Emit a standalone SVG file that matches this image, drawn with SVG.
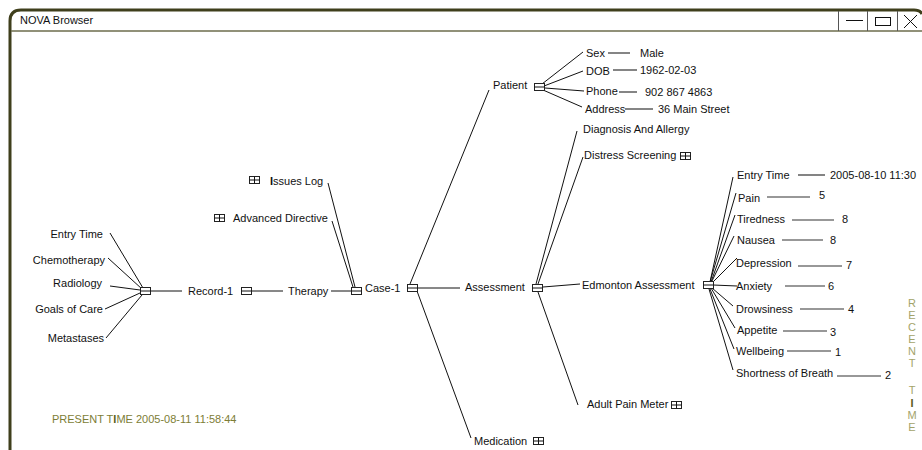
<svg xmlns="http://www.w3.org/2000/svg" xmlns:xlink="http://www.w3.org/1999/xlink" width="922" height="450" viewBox="0 0 922 450">
  <style>
    .t { font-family: "Liberation Sans", Arial, sans-serif; font-size: 11px; fill: #111; }
    .ln { stroke: #111; stroke-width: 1; fill: none; }
    .vl { stroke: #333; stroke-width: 1.2; fill: none; }
    .ic { stroke: #222; stroke-width: 1; fill: #fff; }
    .ol { font-family: "Liberation Sans", Arial, sans-serif; font-size: 11px; fill: #7d7d35; }
    .rc { font-family: "Liberation Sans", Arial, sans-serif; font-size: 11px; fill: #a3a36a; text-anchor: middle; }
    .bi { font-weight: bold; fill: #5d5d1c; }
  </style>
  <defs>
    <!-- collapse toggle: box with a single bar -->
    <g id="col">
      <rect class="ic" x="0.5" y="0.5" width="10" height="7"/>
      <line class="ln" x1="0.5" y1="4" x2="10.5" y2="4"/>
    </g>
    <!-- expand toggle: box split into four -->
    <g id="exp">
      <rect class="ic" x="0.5" y="0.5" width="10" height="7"/>
      <line class="ln" x1="0.5" y1="4" x2="10.5" y2="4"/>
      <line class="ln" x1="5.5" y1="0.5" x2="5.5" y2="7.5"/>
    </g>
  </defs>

  <rect width="922" height="450" fill="#fff"/>

  <!-- window frame -->
  <g id="window">
    <path d="M10,452 L10,21 Q10,10 21,10 L914,10 Q920,10 922,14" fill="none" stroke="#3f3f1c" stroke-width="3"/>
    <line x1="11" y1="31" x2="922" y2="31" stroke="#6d6d4c" stroke-width="1.5"/>
    <text class="t" x="20" y="24">NOVA Browser</text>
    <line x1="838.5" y1="11" x2="838.5" y2="31" stroke="#555" stroke-width="1"/>
    <line x1="867.5" y1="11" x2="867.5" y2="31" stroke="#555" stroke-width="1"/>
    <line x1="897.5" y1="11" x2="897.5" y2="31" stroke="#555" stroke-width="1"/>
    <line x1="846" y1="20.5" x2="863" y2="20.5" stroke="#111" stroke-width="1"/>
    <rect x="875.5" y="17.5" width="15" height="8" fill="none" stroke="#111" stroke-width="1"/>
    <path d="M904,15 L917,28 M917,15 L904,28" stroke="#111" stroke-width="1" fill="none"/>
  </g>

  <!-- connectors -->
  <g id="connectors">
    <!-- Record-1 children -->
    <line class="ln" x1="110" y1="233" x2="143" y2="288"/>
    <line class="ln" x1="108" y1="258" x2="142" y2="289"/>
    <line class="ln" x1="110" y1="286" x2="140" y2="290"/>
    <line class="ln" x1="105" y1="309" x2="140" y2="293"/>
    <line class="ln" x1="106" y1="338" x2="142" y2="295"/>
    <line class="ln" x1="151" y1="291" x2="182" y2="291"/>
    <line class="ln" x1="252" y1="291" x2="283" y2="291"/>
    <line class="ln" x1="331" y1="291" x2="351" y2="291"/>
    <!-- Therapy children -->
    <line class="ln" x1="328" y1="183" x2="355" y2="287"/>
    <line class="ln" x1="332" y1="221" x2="353" y2="287"/>
    <!-- Case-1 children -->
    <line class="ln" x1="410" y1="284" x2="489" y2="90"/>
    <line class="ln" x1="418" y1="288" x2="460" y2="288"/>
    <line class="ln" x1="417" y1="291" x2="471" y2="438"/>
    <!-- Patient children -->
    <line class="ln" x1="542" y1="84" x2="583" y2="52"/>
    <line class="ln" x1="544" y1="86" x2="583" y2="71"/>
    <line class="ln" x1="545" y1="88" x2="584" y2="91"/>
    <line class="ln" x1="543" y1="90" x2="582" y2="107"/>
    <line class="vl" x1="608" y1="53" x2="630" y2="53"/>
    <line class="vl" x1="613" y1="70" x2="637" y2="70"/>
    <line class="vl" x1="619" y1="92" x2="637" y2="92"/>
    <line class="vl" x1="625" y1="109" x2="653" y2="109"/>
    <!-- Assessment children -->
    <line class="ln" x1="577" y1="131" x2="536" y2="284"/>
    <line class="ln" x1="583" y1="157" x2="538" y2="284"/>
    <line class="ln" x1="543" y1="287" x2="580" y2="284"/>
    <line class="ln" x1="538" y1="292" x2="578" y2="405"/>
    <!-- Edmonton Assessment children -->
    <line class="ln" x1="710" y1="282" x2="733" y2="177"/>
    <line class="ln" x1="710" y1="282" x2="736" y2="193"/>
    <line class="ln" x1="711" y1="282" x2="735" y2="215"/>
    <line class="ln" x1="711" y1="283" x2="734" y2="236"/>
    <line class="ln" x1="712" y1="283" x2="737" y2="258"/>
    <line class="ln" x1="713" y1="285" x2="737" y2="286"/>
    <line class="ln" x1="712" y1="288" x2="733" y2="306"/>
    <line class="ln" x1="711" y1="288" x2="735" y2="328"/>
    <line class="ln" x1="710" y1="289" x2="734" y2="349"/>
    <line class="ln" x1="709" y1="289" x2="733" y2="370"/>
    <line class="vl" x1="798" y1="175" x2="825" y2="175"/>
    <line class="vl" x1="767" y1="197" x2="810" y2="197"/>
    <line class="vl" x1="792" y1="220" x2="834" y2="220"/>
    <line class="vl" x1="782" y1="240" x2="823" y2="240"/>
    <line class="vl" x1="798" y1="266" x2="842" y2="266"/>
    <line class="vl" x1="785" y1="286" x2="825" y2="286"/>
    <line class="vl" x1="800" y1="309" x2="844" y2="309"/>
    <line class="vl" x1="783" y1="331" x2="827" y2="331"/>
    <line class="vl" x1="787" y1="351" x2="831" y2="351"/>
    <line class="vl" x1="837" y1="376" x2="881" y2="376"/>
  </g>

  <!-- record leaves -->
  <g id="entry-time-1"><text class="t" x="103" y="238" text-anchor="end">Entry Time</text></g>
  <g id="chemotherapy"><text class="t" x="105" y="264" text-anchor="end">Chemotherapy</text></g>
  <g id="radiology"><text class="t" x="102" y="287" text-anchor="end">Radiology</text></g>
  <g id="goals-of-care"><text class="t" x="103" y="313" text-anchor="end">Goals of Care</text></g>
  <g id="metastases"><text class="t" x="104" y="342" text-anchor="end">Metastases</text></g>
  <g id="record-hub"><use xlink:href="#col" x="140" y="287"/></g>

  <g id="record-1">
    <text class="t" x="188" y="295">Record-1</text>
    <use xlink:href="#col" x="241" y="287"/>
  </g>
  <g id="therapy">
    <text class="t" x="288" y="295">Therapy</text>
    <use xlink:href="#col" x="351" y="287"/>
  </g>
  <g id="issues-log">
    <use xlink:href="#exp" x="249" y="176"/>
    <text class="t" x="270" y="185"><tspan font-weight="bold">I</tspan>ssues Log</text>
  </g>
  <g id="advanced-directive">
    <use xlink:href="#exp" x="214" y="214"/>
    <text class="t" x="233" y="222">Advanced Directive</text>
  </g>
  <g id="case-1">
    <text class="t" x="365" y="292">Case-1</text>
    <use xlink:href="#col" x="407" y="284"/>
  </g>

  <g id="patient">
    <text class="t" x="493" y="89">Patient</text>
    <use xlink:href="#col" x="534" y="83"/>
  </g>
  <g id="sex"><text class="t" x="586" y="57">Sex</text><text class="t" x="640" y="57">Male</text></g>
  <g id="dob"><text class="t" x="586" y="75">DOB</text><text class="t" x="640" y="74">1962-02-03</text></g>
  <g id="phone"><text class="t" x="586" y="95">Phone</text><text class="t" x="645" y="96">902 867 4863</text></g>
  <g id="address"><text class="t" x="585" y="113">Address</text><text class="t" x="658" y="113">36 Main Street</text></g>

  <g id="assessment">
    <text class="t" x="465" y="291">Assessment</text>
    <use xlink:href="#col" x="532" y="284"/>
  </g>
  <g id="medication">
    <text class="t" x="474" y="445">Medication</text>
    <use xlink:href="#exp" x="533" y="437"/>
  </g>
  <g id="diagnosis"><text class="t" x="583" y="133">Diagnosis And Allergy</text></g>
  <g id="distress-screening">
    <text class="t" x="584" y="159">Distress Screening</text>
    <use xlink:href="#exp" x="680" y="152"/>
  </g>
  <g id="adult-pain-meter">
    <text class="t" x="587" y="408">Adult Pain Meter</text>
    <use xlink:href="#exp" x="671" y="401"/>
  </g>
  <g id="edmonton-assessment">
    <text class="t" x="582" y="289">Edmonton Assessment</text>
    <use xlink:href="#col" x="703" y="281"/>
  </g>

  <!-- Edmonton symptom scores -->
  <g id="entry-time-2"><text class="t" x="737" y="179">Entry Time</text><text class="t" x="830" y="179">2005-08-10 11:30</text></g>
  <g id="pain"><text class="t" x="738" y="202">Pain</text><text class="t" x="819" y="199">5</text></g>
  <g id="tiredness"><text class="t" x="737" y="223">Tiredness</text><text class="t" x="842" y="223">8</text></g>
  <g id="nausea"><text class="t" x="737" y="244">Nausea</text><text class="t" x="830" y="244">8</text></g>
  <g id="depression"><text class="t" x="736" y="267">Depression</text><text class="t" x="846" y="269">7</text></g>
  <g id="anxiety"><text class="t" x="736" y="290">Anxiety</text><text class="t" x="828" y="290">6</text></g>
  <g id="drowsiness"><text class="t" x="736" y="313">Drowsiness</text><text class="t" x="848" y="313">4</text></g>
  <g id="appetite"><text class="t" x="737" y="334">Appetite</text><text class="t" x="830" y="336">3</text></g>
  <g id="wellbeing"><text class="t" x="736" y="355">Wellbeing</text><text class="t" x="835" y="356">1</text></g>
  <g id="shortness-of-breath"><text class="t" x="736" y="377">Shortness of Breath</text><text class="t" x="885" y="379">2</text></g>

  <!-- time labels -->
  <g id="present-time">
    <text class="ol" x="52" y="423">PRESENT T<tspan class="bi">I</tspan>ME 2005-08-11 11:58:44</text>
  </g>
  <g id="recent-time">
    <text class="rc" x="912" y="307">R</text>
    <text class="rc" x="912" y="319">E</text>
    <text class="rc" x="912" y="331">C</text>
    <text class="rc" x="912" y="343">E</text>
    <text class="rc" x="912" y="355">N</text>
    <text class="rc" x="912" y="367">T</text>
    <text class="rc" x="912" y="394">T</text>
    <text class="rc bi" x="912" y="407">I</text>
    <text class="rc" x="912" y="419">M</text>
    <text class="rc" x="912" y="431">E</text>
  </g>
</svg>
